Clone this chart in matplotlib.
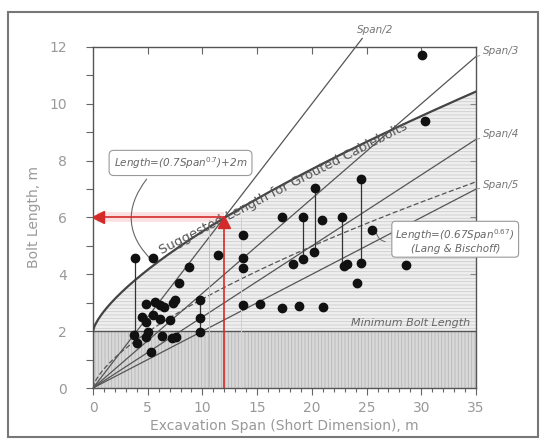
import matplotlib.pyplot as plt
import numpy as np
from matplotlib.patches import Rectangle

plt.rcParams['hatch.linewidth'] = 0.6

# case data: span (m) and bolt length (m)
span = [3.8, 5.5, 11.45, 8.8, 7.9, 9.8, 7.5, 7.3, 4.85, 5.67, 6.1, 6.5,
        4.5, 4.85, 5.5, 6.1, 7.0, 9.8, 9.8, 3.75, 5.05, 4.85, 6.3, 7.2,
        7.6, 4.0, 5.27,
        20.3, 17.25, 19.2, 20.9, 22.8, 13.7, 13.7, 13.7, 18.3, 19.2, 20.2,
        22.9, 23.2, 24.1, 13.7, 15.3, 17.25, 18.8, 21.0,
        30.1, 30.3, 24.5, 25.5, 24.5, 28.6]
bolt = [4.57, 4.59, 4.68, 4.27, 3.69, 3.1, 3.1, 2.98, 2.96, 3.04, 2.92, 2.84,
        2.49, 2.34, 2.57, 2.42, 2.39, 2.45, 1.98, 1.87, 1.98, 1.81, 1.83, 1.75,
        1.8, 1.57, 1.28,
        7.03, 6.0, 6.03, 5.92, 6.01, 5.4, 4.57, 4.21, 4.35, 4.53, 4.8,
        4.31, 4.37, 3.69, 2.92, 2.96, 2.8, 2.9, 2.86,
        11.72, 9.4, 7.35, 5.56, 4.41, 4.33]

# ranges joined by vertical lines: (span, low, high)
ranges = [(3.8, 1.87, 4.57), (9.8, 1.98, 3.1), (19.2, 4.53, 6.03),
          (20.3, 4.8, 7.03), (22.8, 4.3, 6.01), (24.5, 4.41, 7.35)]

ratios = [3, 4, 5]
min_length = 2

fig = plt.figure(figsize=(5.45, 4.4), dpi=100)
ax = fig.add_axes([93/545, 52/440, 383/545, 341/440])

# outer frame
fig.patches.append(Rectangle((8/545, 3/440), 530/545, 425/440, transform=fig.transFigure,
                             fill=False, edgecolor='#777777', linewidth=1.5))

x = np.linspace(0, 35, 300)
suggested = 0.7 * x**0.7 + 2
lang = 0.67 * x**0.67

# shaded zones
ax.fill_between(x, min_length, suggested, facecolor='#efefef', edgecolor='#cdcdcd',
                hatch='-----', linewidth=0, zorder=0)
ax.fill_between([0, 35], 0, min_length, facecolor='#d8d8d8', edgecolor='#b8b8b8',
                hatch='|||||', linewidth=0, zorder=0)
ax.axhline(min_length, color='#555555', lw=1.0, zorder=1)

# span ratio lines
line_c = '#555555'
ax.plot([0, 24.6], [0, 12.3], color=line_c, lw=0.9, clip_on=False, zorder=2)
ax.text(25.8, 12.6, 'Span/2', style='italic', fontsize=7.5, color='#777777',
        ha='center', va='center')
for r in ratios:
    ax.plot([0, 35], [0, 35 / r], color=line_c, lw=0.9, zorder=2)
label_y = {3: 11.85, 4: 8.95, 5: 7.15}
for r in ratios:
    ax.annotate('Span/%d' % r, xy=(35, 35 / r), xytext=(35.6, label_y[r]),
                fontsize=7.5, style='italic', color='#777777', va='center',
                annotation_clip=False,
                arrowprops=dict(arrowstyle='-', color='#888888', lw=0.6,
                                shrinkA=0, shrinkB=0))

ax.plot(x, lang, color=line_c, lw=0.9, ls=(0, (4, 2)), zorder=2)
ax.plot(x, suggested, color='#444444', lw=1.6, zorder=3)

# red design example
ax.plot([12, 0.4], [6, 6], color='#e03030', lw=7, alpha=0.15, zorder=3, solid_capstyle='butt')
ax.plot([10.6, 10.6], [0, 5.9], color='#f0a8a8', lw=0.7, zorder=3)
ax.plot([13.5, 13.5], [0, 6.0], color='#f0c0c0', lw=0.7, zorder=3)
ax.plot([12, 0.5], [6, 6], color='#d42a2a', lw=1.2, zorder=4)
ax.plot([0.5], [6], marker='<', color='#d42a2a', ms=8, zorder=4)
ax.plot([12, 12], [0, 5.7], color='#d42a2a', lw=1.2, zorder=4)
ax.plot([12], [5.85], marker='^', color='#d42a2a', ms=8, zorder=4)

# data
for s, lo, hi in ranges:
    ax.plot([s, s], [lo, hi], color='#333333', lw=0.9, zorder=4)
ax.scatter(span, bolt, s=36, color='#111111', zorder=5)

# annotations
ax.text(6.4, 4.62, 'Suggested Length for Grouted Cablebolts', rotation=27,
        rotation_mode='anchor', ha='left', va='bottom', fontsize=9.5, color='#555555')
ax.text(8.0, 7.92, r'Length=(0.7Span$^{0.7}$)+2m', style='italic', fontsize=7.5,
        color='#666666', ha='center', va='center', zorder=6,
        bbox=dict(boxstyle='round,pad=0.45', fc='white', ec='#999999', lw=0.8))
ax.annotate('', xy=(5.5, 4.45), xytext=(4.9, 7.35),
            arrowprops=dict(arrowstyle='-', color='#666666', lw=0.8,
                            connectionstyle='arc3,rad=0.45', shrinkA=0, shrinkB=0))
ax.text(33.1, 5.2, 'Length=(0.67Span$^{0.67}$)\n(Lang & Bischoff)', style='italic',
        fontsize=7.5, color='#666666', ha='center', va='center', zorder=6,
        linespacing=1.1,
        bbox=dict(boxstyle='round,pad=0.35', fc='white', ec='#999999', lw=0.8))
ax.annotate('', xy=(25.9, 5.45), xytext=(26.7, 5.15),
            arrowprops=dict(arrowstyle='-', color='#666666', lw=0.7,
                            connectionstyle='arc3,rad=-0.3', shrinkA=0, shrinkB=0))
ax.text(34.5, 2.12, 'Minimum Bolt Length', style='italic', fontsize=8,
        color='#666666', ha='right', va='bottom')

# axes
ax.set_xlim(0, 35)
ax.set_ylim(0, 12)
ax.set_xticks(np.arange(0, 36, 5))
ax.set_xticks(np.arange(0, 36, 1), minor=True)
ax.set_yticks(np.arange(0, 13, 2))
ax.set_yticks(np.arange(0, 13, 1), minor=True)
ax.tick_params(axis='both', which='both', colors='#666666', labelcolor='#999999',
               labelsize=10, width=0.8, direction='out')
ax.tick_params(axis='y', which='both', length=5, pad=14)
ax.tick_params(axis='x', which='major', length=5, pad=4)
ax.tick_params(axis='x', which='minor', length=3)

# inward ticks on top and right
top = ax.secondary_xaxis('top')
top.set_xticks(np.arange(5, 35, 5))
top.tick_params(direction='in', length=5, width=0.8, colors='#666666', labeltop=False)
right = ax.secondary_yaxis('right')
right.set_yticks(np.arange(2, 12, 2))
right.tick_params(direction='in', length=4, width=0.8, colors='#888888', labelright=False)
for a in (top, right):
    for side in a.spines.values():
        side.set_visible(False)

for side in ax.spines.values():
    side.set_color('#555555')
    side.set_linewidth(1.0)
ax.set_xlabel('Excavation Span (Short Dimension), m', fontsize=10, color='#999999', labelpad=3)
ax.set_ylabel('Bolt Length, m', fontsize=10, color='#999999', labelpad=6)

fig.savefig('out.png', dpi=100)
